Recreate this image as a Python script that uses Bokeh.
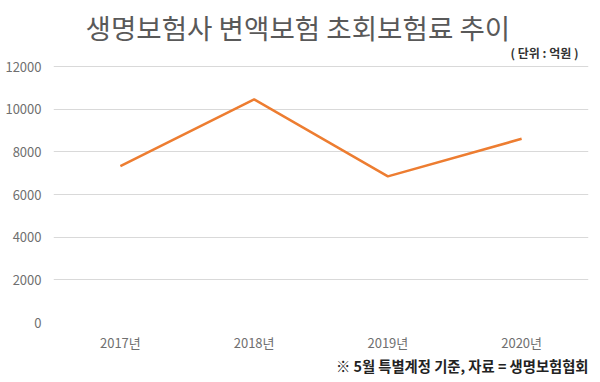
from bokeh.plotting import figure
from bokeh.models import Title, Label, Range1d, FixedTicker
from bokeh.embed import file_html
from bokeh.resources import INLINE

years = ["2017년", "2018년", "2019년", "2020년"]
premiums = [7330, 10460, 6850, 8610]
y_ticks = [0, 2000, 4000, 6000, 8000, 10000, 12000]

title_text = "생명보험사 변액보험 초회보험료 추이"
unit_text = "( 단위 : 억원 )"
note_text = "※ 5월 특별계정 기준, 자료 = 생명보험협회"

FONT = "Noto Sans CJK KR"

# frame spans page y 47..322; the 12000 gridline sits at y 66 (256 px for 12000)
FRAME_TOP, GRID_TOP, FRAME_BOTTOM = 47, 66, 322
y_end = y_ticks[-1] * (FRAME_BOTTOM - FRAME_TOP) / (FRAME_BOTTOM - GRID_TOP)

p = figure(x_range=years, y_range=Range1d(0, y_end), width=600, height=382,
           output_backend="svg", toolbar_location=None,
           min_border_left=53, min_border_right=12, min_border_top=FRAME_TOP,
           min_border_bottom=60)
p.outline_line_color = None
p.background_fill_color = "white"
p.border_fill_color = "white"

p.line(years, premiums, line_color="#ED7D31", line_width=2.5)

p.yaxis.ticker = FixedTicker(ticks=y_ticks)
for ax in (p.xaxis[0], p.yaxis[0]):
    ax.axis_line_color = None
    ax.major_tick_line_color = None
    ax.minor_tick_line_color = None
    ax.major_tick_out = 0
    ax.major_tick_in = 0
    ax.major_label_text_font = FONT
    ax.major_label_text_font_size = "13px"
    ax.major_label_text_color = "#6f6f6f"
p.yaxis.major_label_standoff = 12
p.xaxis.major_label_standoff = 10
p.xgrid.grid_line_color = None
p.ygrid.grid_line_color = "#d9d9d9"
p.ygrid.grid_line_width = 1

main_title = Title(text=title_text, align="left", offset=32, standoff=0,
                   text_font=FONT, text_font_size="27.6px", text_color="#595959",
                   text_font_style="normal", vertical_align="middle")
note_title = Title(text=note_text, align="right", offset=0, standoff=0,
                   text_font=FONT, text_font_size="14.3px", text_color="#222222",
                   text_font_style="bold", vertical_align="top")
p.add_layout(main_title, "above")
p.add_layout(note_title, "below")

p.add_layout(Label(x=525, y=FRAME_BOTTOM - 52, x_units="screen", y_units="screen",
                   text=unit_text, text_font=FONT, text_font_size="12px",
                   text_color="#333333", text_font_style="bold",
                   text_align="right", text_baseline="middle"))

open("out.html", "w").write(file_html(p, INLINE))
